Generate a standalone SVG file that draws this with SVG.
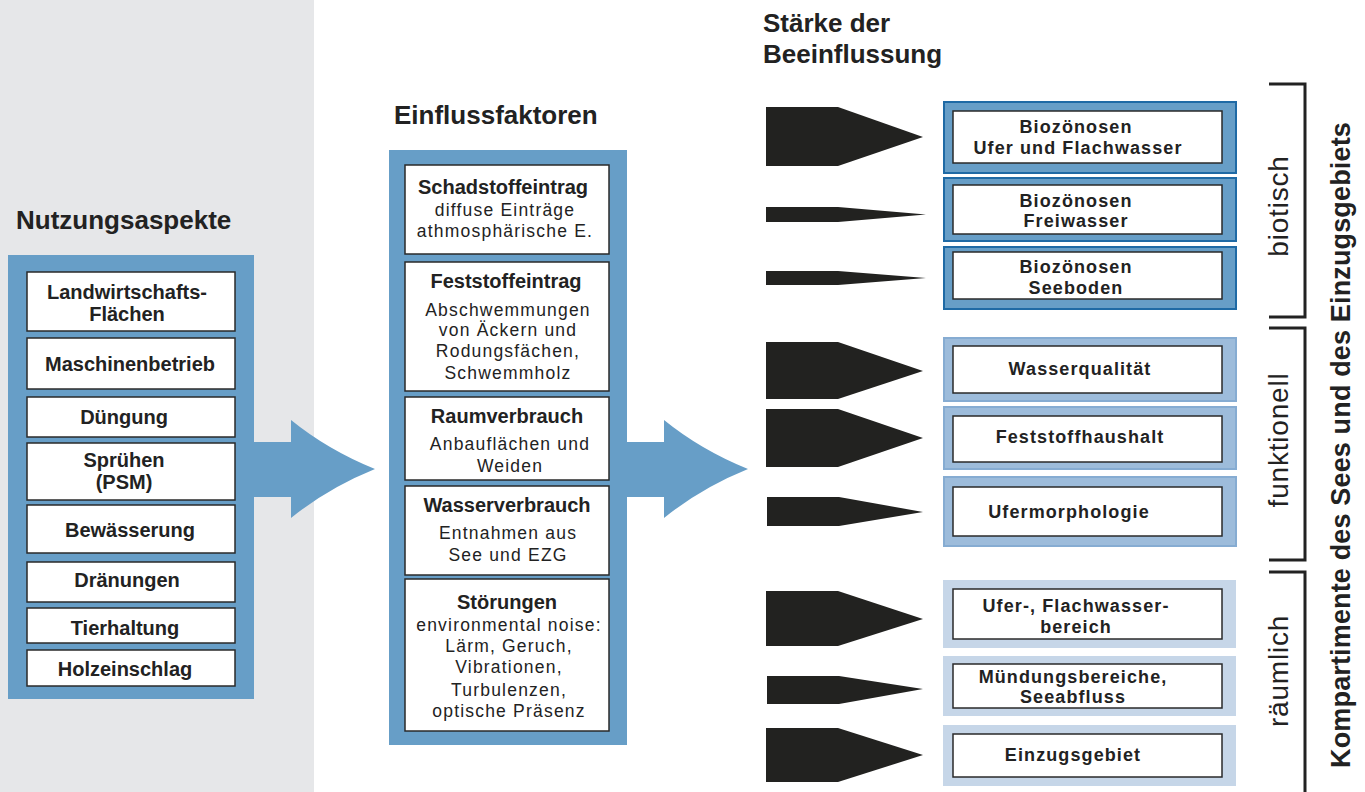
<svg xmlns="http://www.w3.org/2000/svg" width="1365" height="792" viewBox="0 0 1365 792">
<style>
text{font-family:"Liberation Sans",Arial,sans-serif;fill:#222;}
.t{font-size:26px;font-weight:bold;}
.b{font-size:20px;font-weight:bold;text-anchor:middle;}
.r{font-size:17.5px;letter-spacing:1.2px;text-anchor:middle;}
.rb{font-size:18px;font-weight:bold;letter-spacing:1.1px;text-anchor:middle;}
.v{font-size:28px;letter-spacing:0.8px;text-anchor:middle;}
.in{fill:#fff;stroke:#2a2a2a;stroke-width:1.5;}
.blue{fill:#679ec7;}
.bio{fill:#679ec7;stroke:#1f6aa5;stroke-width:2;}
.fun{fill:#9dbcdb;stroke:#86acd2;stroke-width:2;}
.rau{fill:#c6d6e8;}
.ar{fill:#222220;}
.br{fill:none;stroke:#222;stroke-width:3;}
</style>
<rect x="0" y="0" width="314" height="792" fill="#e6e7e9"/>

<text class="t" x="16" y="229">Nutzungsaspekte</text>
<text class="t" x="394" y="124">Einflussfaktoren</text>
<text class="t" x="763" y="32">Stärke der</text>
<text class="t" x="763" y="63">Beeinflussung</text>

<g id="connectors">
  <path class="blue" d="M250,442 H291 V420 Q328,450 375,469 Q328,488 291,518 V497 H250 Z"/>
  <path class="blue" d="M623,442 H664 V420 Q701,450 748,469 Q701,488 664,518 V497 H623 Z"/>
  <polygon class="ar" points="766,107 838,107 923,137 838,166 766,166"/>
  <polygon class="ar" points="766,207 838,207 926,214.5 838,222 766,222"/>
  <polygon class="ar" points="766,271 838,271 926,278 838,285 766,285"/>
  <polygon class="ar" points="766,342 838,342 923,371 838,399 766,399"/>
  <polygon class="ar" points="766,409 838,409 923,438 838,467 766,467"/>
  <polygon class="ar" points="767,497 839,497 923,512 839,526 767,526"/>
  <polygon class="ar" points="766,591 838,591 923,619 838,646 766,646"/>
  <polygon class="ar" points="767,676 839,676 923,689 839,704 767,704"/>
  <polygon class="ar" points="766,728 838,728 923,755 838,782 766,782"/>
</g>

<g id="nutzungsaspekte">
  <rect class="blue" x="8" y="255" width="246" height="444"/>
  <g id="n1"><rect class="in" x="27" y="272" width="208" height="59"/>
    <text class="b" x="127" y="299">Landwirtschafts-</text><text class="b" x="127" y="321">Flächen</text></g>
  <g id="n2"><rect class="in" x="27" y="338" width="208" height="51"/>
    <text class="b" x="130" y="371">Maschinenbetrieb</text></g>
  <g id="n3"><rect class="in" x="27" y="397" width="208" height="40"/>
    <text class="b" x="124" y="424">Düngung</text></g>
  <g id="n4"><rect class="in" x="27" y="443" width="208" height="57"/>
    <text class="b" x="124" y="467">Sprühen</text><text class="b" x="124" y="489">(PSM)</text></g>
  <g id="n5"><rect class="in" x="27" y="505" width="208" height="48"/>
    <text class="b" x="130" y="537">Bewässerung</text></g>
  <g id="n6"><rect class="in" x="27" y="562" width="208" height="40"/>
    <text class="b" x="127" y="587">Dränungen</text></g>
  <g id="n7"><rect class="in" x="27" y="608" width="208" height="35"/>
    <text class="b" x="125" y="635">Tierhaltung</text></g>
  <g id="n8"><rect class="in" x="27" y="650" width="208" height="36"/>
    <text class="b" x="125" y="676">Holzeinschlag</text></g>
</g>

<g id="einflussfaktoren">
  <rect class="blue" x="389" y="150" width="238" height="595"/>
  <g id="e1"><rect class="in" x="405" y="165" width="204" height="89"/>
    <text class="b" x="503" y="194">Schadstoffeintrag</text>
    <text class="r" x="505" y="216">diffuse Einträge</text>
    <text class="r" x="505" y="237">athmosphärische E.</text></g>
  <g id="e2"><rect class="in" x="405" y="262" width="204" height="129"/>
    <text class="b" x="506" y="288">Feststoffeintrag</text>
    <text class="r" x="508" y="316">Abschwemmungen</text>
    <text class="r" x="508" y="336">von Äckern und</text>
    <text class="r" x="508" y="357">Rodungsfächen,</text>
    <text class="r" x="508" y="379">Schwemmholz</text></g>
  <g id="e3"><rect class="in" x="405" y="397" width="204" height="83"/>
    <text class="b" x="507" y="423">Raumverbrauch</text>
    <text class="r" x="510" y="450">Anbauflächen und</text>
    <text class="r" x="510" y="472">Weiden</text></g>
  <g id="e4"><rect class="in" x="405" y="486" width="204" height="89"/>
    <text class="b" x="507" y="512">Wasserverbrauch</text>
    <text class="r" x="508" y="539">Entnahmen aus</text>
    <text class="r" x="508" y="561">See und EZG</text></g>
  <g id="e5"><rect class="in" x="405" y="579" width="204" height="152"/>
    <text class="b" x="507" y="609">Störungen</text>
    <text class="r" x="509" y="631">environmental noise:</text>
    <text class="r" x="509" y="652">Lärm, Geruch,</text>
    <text class="r" x="509" y="673">Vibrationen,</text>
    <text class="r" x="509" y="696">Turbulenzen,</text>
    <text class="r" x="509" y="717">optische Präsenz</text></g>
</g>

<g id="kompartimente">
  <g id="k1"><rect class="bio" x="944" y="102" width="292" height="71"/><rect class="in" x="953" y="111" width="269" height="52"/>
    <text class="rb" x="1076" y="133">Biozönosen</text><text class="rb" x="1078" y="154">Ufer und Flachwasser</text></g>
  <g id="k2"><rect class="bio" x="944" y="178" width="292" height="63"/><rect class="in" x="953" y="185" width="269" height="49"/>
    <text class="rb" x="1076" y="207">Biozönosen</text><text class="rb" x="1076" y="227">Freiwasser</text></g>
  <g id="k3"><rect class="bio" x="944" y="247" width="292" height="62"/><rect class="in" x="953" y="252" width="269" height="47"/>
    <text class="rb" x="1076" y="273">Biozönosen</text><text class="rb" x="1076" y="294">Seeboden</text></g>
  <g id="k4"><rect class="fun" x="944" y="338" width="292" height="63"/><rect class="in" x="953" y="346" width="269" height="47"/>
    <text class="rb" x="1080" y="375">Wasserqualität</text></g>
  <g id="k5"><rect class="fun" x="944" y="407" width="292" height="62"/><rect class="in" x="953" y="416" width="269" height="46"/>
    <text class="rb" x="1080" y="443">Feststoffhaushalt</text></g>
  <g id="k6"><rect class="fun" x="944" y="477" width="292" height="69"/><rect class="in" x="953" y="487" width="269" height="49"/>
    <text class="rb" x="1069" y="518">Ufermorphologie</text></g>
  <g id="k7"><rect class="rau" x="943" y="580" width="293" height="68"/><rect class="in" x="953" y="589" width="269" height="50"/>
    <text class="rb" x="1076" y="612">Ufer-, Flachwasser-</text><text class="rb" x="1076" y="633">bereich</text></g>
  <g id="k8"><rect class="rau" x="943" y="656" width="293" height="60"/><rect class="in" x="953" y="664" width="269" height="44"/>
    <text class="rb" x="1073" y="683">Mündungsbereiche,</text><text class="rb" x="1073" y="703">Seeabfluss</text></g>
  <g id="k9"><rect class="rau" x="943" y="725" width="293" height="61"/><rect class="in" x="953" y="734" width="269" height="43"/>
    <text class="rb" x="1073" y="761">Einzugsgebiet</text></g>
</g>

<g id="brackets">
  <polyline class="br" points="1269,84 1305,84 1305,317 1269,317"/>
  <polyline class="br" points="1269,328 1305,328 1305,560 1269,560"/>
  <polyline class="br" points="1269,572 1305,572 1305,792"/>
  <text class="v" transform="translate(1288,206) rotate(-90)">biotisch</text>
  <text class="v" transform="translate(1288,440) rotate(-90)">funktionell</text>
  <text class="v" transform="translate(1288,671) rotate(-90)">räumlich</text>
  <text transform="translate(1350,445) rotate(-90)" style="font-size:27px;font-weight:bold;text-anchor:middle;letter-spacing:0.15px">Kompartimente des Sees und des Einzugsgebiets</text>
</g>
</svg>
